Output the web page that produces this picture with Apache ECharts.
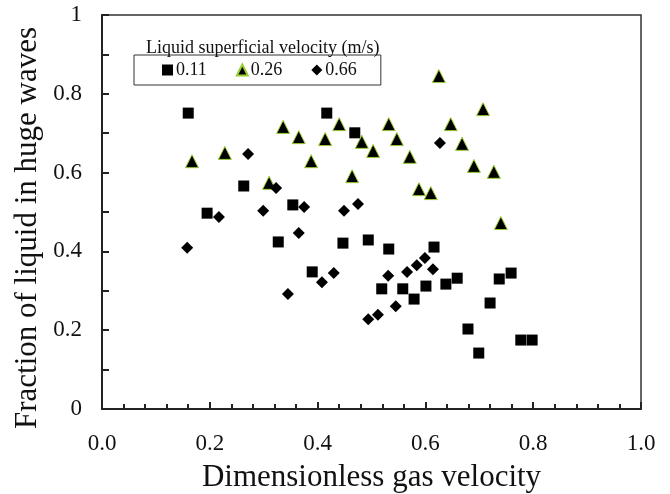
<!DOCTYPE html>
<html>
<head>
<meta charset="utf-8">
<script src="https://cdn.jsdelivr.net/npm/echarts@6/dist/echarts.min.js"></script>
<style>
  html, body { margin: 0; padding: 0; background: #fff; }
  #chart { width: 670px; height: 494px; }
</style>
</head>
<body>
<div id="chart"></div>
<script>
    // liquid superficial velocity 0.11 m/s (squares)
    var sq_x = [0.160, 0.195, 0.263, 0.327, 0.354, 0.390, 0.417, 0.447, 0.469, 0.494, 0.519, 0.532, 0.558,
                0.579, 0.601, 0.616, 0.638, 0.659, 0.679, 0.699, 0.720, 0.737, 0.759, 0.777, 0.798];
    var sq_y = [0.751, 0.497, 0.566, 0.424, 0.518, 0.348, 0.751, 0.421, 0.701, 0.429, 0.305, 0.406, 0.305,
                0.279, 0.312, 0.411, 0.317, 0.332, 0.203, 0.142, 0.269, 0.330, 0.345, 0.175, 0.175];
    // 0.26 m/s (triangles)
    var tri_x = [0.167, 0.228, 0.310, 0.336, 0.365, 0.388, 0.414, 0.440, 0.464, 0.482, 0.503, 0.532,
                 0.547, 0.571, 0.588, 0.610, 0.625, 0.647, 0.668, 0.690, 0.707, 0.727, 0.740];
    var tri_y = [0.629, 0.650, 0.574, 0.716, 0.690, 0.629, 0.685, 0.723, 0.591, 0.678, 0.655, 0.723,
                 0.685, 0.640, 0.558, 0.548, 0.845, 0.723, 0.673, 0.617, 0.761, 0.602, 0.472];
    // 0.66 m/s (diamonds)
    var dia_x = [0.158, 0.217, 0.271, 0.299, 0.323, 0.345, 0.365, 0.375, 0.408, 0.430, 0.449, 0.475,
                 0.494, 0.512, 0.531, 0.545, 0.566, 0.584, 0.599, 0.614, 0.627];
    var dia_y = [0.409, 0.487, 0.647, 0.503, 0.561, 0.292, 0.447, 0.513, 0.322, 0.345, 0.503, 0.520,
                 0.228, 0.239, 0.338, 0.261, 0.348, 0.365, 0.383, 0.355, 0.675];

    var seriesNames = ['0.11', '0.26', '0.66'];

    function pairs(xs, ys) {
        var out = [];
        for (var i = 0; i < xs.length; i++) {
            out.push([xs[i], ys[i]]);
        }
        return out;
    }

    var FONT = '"Liberation Serif", "DejaVu Serif", serif';
    var myChart = echarts.init(document.getElementById('chart'));

    var option = {
        backgroundColor: '#fff',
        animation: false,
        title: {
            text: 'Liquid superficial velocity (m/s)',
            left: 141,
            top: 34,
            textStyle: { fontFamily: FONT, fontSize: 18, fontWeight: 'normal', color: '#111' }
        },
        legend: {
            data: seriesNames,
            left: 134,
            top: 55,
            padding: [6, 24, 6, 28],
            borderColor: '#333',
            borderWidth: 1,
            itemWidth: 11,
            itemHeight: 11,
            itemGap: 29,
            textStyle: { fontFamily: FONT, fontSize: 18, color: '#111', padding: [0, 0, 0, -2] }
        },
        // y title is drawn by hand: in the picture it sits lower than the axis middle
        graphic: [{
            type: 'text',
            x: 28,
            y: 228,
            rotation: Math.PI / 2,
            style: {
                text: 'Fraction of liquid in huge waves',
                font: '31px ' + FONT,
                fill: '#111',
                textAlign: 'center',
                textVerticalAlign: 'middle'
            }
        }],
        grid: {
            left: 102,
            right: 29,
            top: 15,
            bottom: 85,
            outerBoundsMode: 'none',
            show: true,
            borderColor: '#333',
            borderWidth: 1.5
        },
        xAxis: {
            type: 'value',
            min: 0,
            max: 1,
            interval: 0.2,
            name: 'Dimensionless gas velocity',
            nameLocation: 'middle',
            nameGap: 53,
            nameTextStyle: { fontFamily: FONT, fontSize: 31, color: '#111' },
            axisLine: { lineStyle: { color: '#222', width: 2 } },
            axisTick: { inside: true, length: 7, lineStyle: { color: '#222', width: 2 } },
            minorTick: { show: true, splitNumber: 5, length: 5, lineStyle: { color: '#222', width: 2 } },
            splitLine: { show: false },
            axisLabel: {
                margin: 23,
                fontFamily: FONT, fontSize: 23, color: '#111',
                formatter: function (v) { return v.toFixed(1); }
            }
        },
        yAxis: {
            type: 'value',
            min: 0,
            max: 1,
            interval: 0.2,
            axisLine: { lineStyle: { color: '#222', width: 2 } },
            axisTick: { inside: true, length: 7, lineStyle: { color: '#222', width: 2 } },
            minorTick: { show: true, splitNumber: 2, length: 7, lineStyle: { color: '#222', width: 2 } },
            splitLine: { show: false },
            axisLabel: { margin: 20, fontFamily: FONT, fontSize: 23, color: '#111' }
        },
        series: [
            {
                name: seriesNames[0],
                type: 'scatter',
                symbol: 'rect',
                symbolSize: 11,
                itemStyle: { color: '#000', opacity: 1 },
                data: pairs(sq_x, sq_y)
            },
            {
                name: seriesNames[1],
                type: 'scatter',
                symbol: 'triangle',
                symbolSize: 13,
                itemStyle: { color: '#000', opacity: 1, borderColor: '#9acd32', borderWidth: 1 },
                data: pairs(tri_x, tri_y)
            },
            {
                name: seriesNames[2],
                type: 'scatter',
                symbol: 'diamond',
                symbolSize: 12,
                itemStyle: { color: '#000', opacity: 1 },
                data: pairs(dia_x, dia_y)
            }
        ]
    };

    myChart.setOption(option);
</script>
</body>
</html>
